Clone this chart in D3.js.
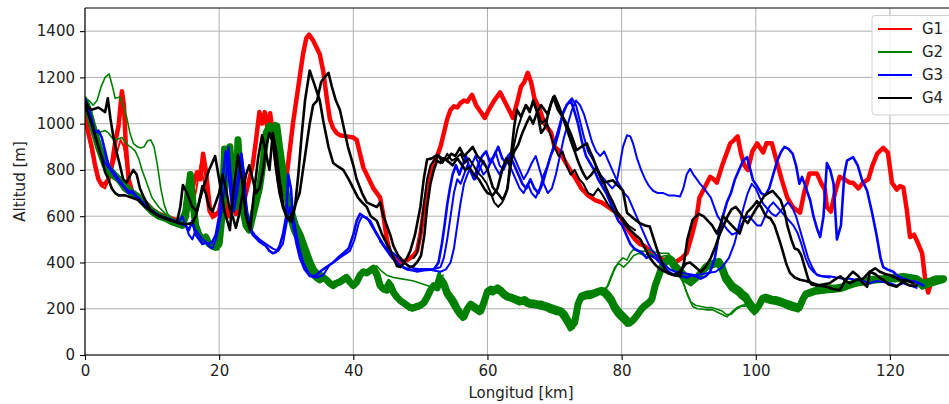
<!DOCTYPE html>
<html><head><meta charset="utf-8">
<script src="https://cdn.jsdelivr.net/npm/d3@7"></script>
<style>body{margin:0;background:#fff}svg{display:block}text{font-family:"DejaVu Sans",sans-serif}</style>
</head><body><svg id="c" width="949" height="404"></svg>
<script>
const groups = ["G1","G2","G3","G4"];
const groupColors = ["#ff0000","#008000","#0000ff","#000000"];
const xTicks = [0,20,40,60,80,100,120];
const yTicks = [0,200,400,600,800,1000,1200,1400];

// G1 (red)
const r1 = [[0,1040],[0.5,960],[1,900],[1.5,820],[2,760],[2.5,735],[3,740],[3.5,760],[4,820],[4.5,920],[5,990],[5.5,1140],[5.8,1080],[6.1,900],[6.5,760],[7,710],[7.5,690],[8,680],[9,660],[10,630],[11,610],[12,600],[13,590],[14,580],[15,600],[15.5,680],[16,720],[16.7,790],[17.2,760],[17.6,870],[18,800],[18.6,640],[19.2,600],[20,620],[20.5,700],[21,640],[21.5,600],[22,650],[22.5,610],[23,680],[23.5,640],[24,700],[24.5,760],[25,820],[25.5,930],[26,1050],[26.4,1000],[26.8,1050],[27.2,980],[27.6,1045],[28,960],[28.5,840],[29,730],[29.5,700],[30,760],[30.5,880],[31,1000],[31.5,1100],[32,1200],[32.5,1300],[33,1370],[33.4,1385],[34,1360],[34.5,1330],[35,1300],[35.5,1230],[36,1120],[36.5,1020],[37,980],[37.5,960],[38,950],[39,945],[40,940],[40.5,930],[41,870],[41.5,810],[42,780],[43,720],[44,680],[44.5,600],[45,500],[45.5,440],[46,420],[47,400],[48,410],[49,430],[49.5,450],[50,520],[50.5,620],[51,700],[51.5,780],[52,830],[52.5,860],[53,900],[53.5,960],[54,1020],[54.5,1060],[55,1075],[55.5,1070],[56,1090],[56.5,1100],[57,1095],[57.7,1125],[58.3,1080],[59,1050],[59.6,1025],[60.2,1060],[61,1100],[61.9,1135],[62.5,1100],[63.2,1060],[63.8,1025],[64.5,1100],[65,1160],[65.5,1180],[66,1220],[66.5,1180],[67,1110],[67.8,1060],[68.5,1000],[69.5,960],[70,900],[70.8,880],[71.5,840],[72.3,800],[73,770],[74,720],[75,690],[76,670],[77,660],[78,640],[79,620],[80,590],[81,540],[82,500],[82.7,480],[83.5,470],[84.5,440],[85.5,420],[86.5,410],[87.2,410],[88,400],[89,420],[89.7,440],[90.5,520],[91.2,600],[91.6,680],[92.3,720],[93.2,770],[93.7,760],[94.2,745],[95,820],[96.2,915],[96.8,930],[97.3,945],[97.8,870],[98.3,820],[98.8,800],[99.5,880],[100.2,915],[101.1,875],[101.6,915],[102.4,915],[103,850],[103.9,755],[104.7,680],[105.5,640],[106.6,615],[107.2,700],[108,785],[109.1,785],[109.8,740],[110.3,715],[110.6,640],[111.2,620],[111.8,700],[112.5,770],[113.2,760],[114,745],[114.5,745],[115.3,720],[116,745],[116.8,760],[117.4,820],[118.1,870],[119,895],[119.7,875],[120.3,745],[121,715],[121.5,730],[122,725],[122.5,630],[123,510],[123.6,520],[124,495],[124.8,440],[125.2,340],[125.7,270],[126.2,320],[126.5,330]];
const r2 = [[0,1010],[0.6,930],[1.2,850],[1.8,770],[2.4,730],[3,720],[3.6,760],[4.2,820],[4.8,880],[5.3,930],[5.8,900],[6.3,800],[6.8,720],[7.4,690],[8,670],[9,650],[10,625],[11,605],[12,595],[13,585],[14,575],[15,590],[15.8,650],[16.5,700],[17.2,820],[17.8,740],[18.4,620],[19,590]];

// G2 (green)
const g1 = [[0,1090],[0.5,1060],[1,1000],[1.5,950],[2,900],[2.5,860],[3,820],[3.5,800],[4,780],[4.5,770],[5,760],[5.5,740],[6,720],[7,700],[8,680],[9,650],[10,620],[11,600],[12,590],[13,575],[14,565],[14.5,560],[15,600],[15.4,700],[15.7,780],[16,680],[16.5,560],[17,520],[17.5,500],[18,510],[18.5,480],[19,470],[19.5,465],[20,480],[20.5,620],[20.8,890],[21.1,760],[21.6,900],[22,720],[22.4,640],[22.8,930],[23.2,760],[23.6,620],[24,560],[24.5,540],[25,600],[25.5,660],[26,720],[26.5,820],[27,960],[27.5,990],[28,960],[28.6,990],[29,900],[29.5,800],[30,700],[30.6,600],[31.2,540],[32,490],[32.5,450],[33,410],[33.5,380],[34,350],[34.5,335],[35,325],[35.5,335],[36,325],[36.5,310],[37,300],[37.5,310],[38,315],[38.5,325],[39,335],[39.5,315],[40,300],[40.5,315],[41,345],[41.5,360],[42,355],[42.5,365],[43,375],[43.5,350],[44,300],[44.5,285],[45,280],[45.5,300],[46,270],[46.5,250],[47,235],[47.5,225],[48,215],[48.5,205],[49,205],[49.5,210],[50,215],[50.5,225],[51,250],[51.5,280],[52,300],[52.5,290],[53,330],[53.5,310],[54,270],[54.5,250],[55,230],[55.5,200],[56,180],[56.5,165],[57,200],[57.5,220],[58,210],[58.5,200],[59,190],[59.5,230],[60,275],[60.5,285],[61,280],[61.5,290],[62,280],[62.5,265],[63,255],[63.5,250],[64,245],[64.5,240],[65,235],[65.5,240],[66,230],[66.5,225],[67,225],[67.5,220],[68,220],[68.5,215],[69,210],[69.5,205],[70,200],[70.5,195],[71,190],[71.5,175],[72,150],[72.5,125],[73,140],[73.5,220],[74,255],[74.5,260],[75,265],[75.5,265],[76,270],[76.5,275],[77,280],[77.5,275],[78,260],[78.5,240],[79,210],[79.5,190],[80,175],[80.5,160],[81,145],[81.5,145],[82,160],[82.5,180],[83,200],[83.5,215],[84,225],[84.5,240],[85,300],[85.5,340],[86,380],[86.5,400],[87,420],[87.5,410],[88,385],[88.5,370],[89,355],[89.5,340],[90,330],[90.5,320],[91,330],[91.5,345],[92,360],[92.5,380],[93,390],[93.5,395],[94,400],[94.5,405],[95,380],[95.5,340],[96,320],[96.5,300],[97,290],[97.5,280],[98,265],[98.5,255],[99,230],[99.5,210],[100,195],[100.5,215],[101,245],[101.5,250],[102,245],[102.5,240],[103,240],[103.5,235],[104,230],[104.5,225],[105,220],[105.5,215],[106,210],[106.5,205],[107,240],[107.5,265],[108,270],[108.5,275],[109,280],[110,285],[111,290],[112,290],[113,295],[114,305],[115,315],[116,320],[117,325],[118,330],[119,330],[120,335],[121,335],[122,340],[123,335],[124,330],[125,310],[126,320],[127,330],[128,330]];
const g2 = [[0,1110],[0.5,1080],[1,1030],[1.5,980],[2,930],[2.5,880],[3,850],[3.5,820],[4,800],[5,770],[6,740],[7,710],[8,690],[9,660],[10,630],[11,610],[12,595],[13,580],[14,570],[14.8,620],[15.3,740],[15.6,700],[16.2,600],[16.8,540],[17.4,510],[18,495],[18.6,485],[19.2,470],[19.8,460],[20.2,520],[20.6,860],[21,700],[21.5,880],[21.9,700],[22.5,660],[22.9,900],[23.3,700],[23.8,580],[24.3,550],[24.8,560],[25.3,640],[25.8,700],[26.3,780],[26.8,900],[27.3,970],[27.8,940],[28.3,1000],[28.8,940],[29.3,850],[29.8,760],[30.3,680],[31,620],[31.6,560],[32.3,520],[32.8,480],[33.3,440],[33.8,400],[34.3,370],[34.8,355],[35.3,350],[35.8,330],[36.3,315],[36.8,310],[37.3,315],[37.8,320],[38.3,330],[38.8,340],[39.3,330],[39.8,300],[40.3,305],[40.8,340],[41.3,350],[41.8,355],[42.3,360],[42.8,370],[43.3,345],[43.8,300],[44.3,285],[44.8,295],[45.3,320],[45.8,300],[46.3,260],[46.8,240],[47.3,230],[47.8,215],[48.3,200],[48.8,195],[49.3,200],[49.8,205],[50.3,215],[50.8,235],[51.3,265],[51.8,290],[52.3,300],[52.8,350],[53.3,300],[53.8,260],[54.3,240],[54.8,215],[55.3,190],[55.8,170],[56.3,155],[56.8,175],[57.3,210],[57.8,200],[58.3,190],[58.8,180],[59.3,205],[59.8,260],[60.3,270],[60.8,265],[61.3,275],[61.8,270],[62.3,255],[62.8,245],[63.3,240],[63.8,235],[64.3,228],[64.8,222],[65.3,228],[65.8,218],[66.3,212],[66.8,212],[67.3,208],[67.8,205],[68.3,202],[68.8,198],[69.3,190],[69.8,185],[70.3,180],[70.8,178],[71.3,160],[71.8,135],[72.3,110],[72.8,120],[73.3,200],[73.8,240],[74.3,245],[74.8,250],[75.3,250],[75.8,255],[76.3,262],[76.8,268],[77.3,262],[77.8,245],[78.3,225],[78.8,195],[79.3,175],[79.8,160],[80.3,145],[80.8,130],[81.3,132],[81.8,148],[82.3,168],[82.8,188],[83.3,202],[83.8,212],[84.3,225],[84.8,285],[85.3,325],[85.8,365],[86.3,385],[86.8,405],[87.3,395],[87.8,372],[88.3,355],[88.8,340],[89.3,325],[89.8,315],[90.3,305],[90.8,318],[91.3,332],[91.8,348],[92.3,365],[92.8,375],[93.3,380],[93.8,385],[94.3,390],[94.8,365],[95.3,325],[95.8,305],[96.3,285],[96.8,275],[97.3,265],[97.8,250],[98.3,240],[98.8,215],[99.3,195],[99.8,180],[100.3,200],[100.8,230],[101.3,238],[101.8,232],[102.3,228],[102.8,226],[103.3,222],[103.8,218],[104.3,212],[104.8,205],[105.3,200],[105.8,196],[106.3,192],[106.8,225],[107.3,250],[107.8,258],[108.3,262],[108.8,268],[109.8,272],[110.8,276],[111.8,278],[112.8,282],[113.8,292],[114.8,302],[115.8,308],[116.8,312],[117.8,318],[118.8,320],[119.8,322],[120.8,322],[121.8,326],[122.8,322],[123.8,318],[124.8,290],[125.8,300],[126.8,310],[128,320]];
const g3 = [[0,1110],[0.6,1100],[1.2,1080],[1.8,1100],[2.4,1160],[3,1200],[3.6,1215],[4.1,1160],[4.5,1110],[5.2,1115],[5.7,1080],[6.2,1030],[6.7,960],[7.2,915],[7.8,900],[8.3,895],[8.8,900],[9.3,925],[9.8,930],[10.3,900],[10.8,820],[11.3,720],[11.8,650],[12.3,610],[13,590],[14,575]];
const g4 = [[0,1060],[0.6,1010],[1.2,970],[1.8,960],[2.4,965],[3,970],[3.5,960],[4,940],[4.5,930],[5,935],[5.5,940],[6,920],[6.5,905],[7,895],[7.5,880],[8,850],[8.5,800],[9,760],[9.5,720],[10,680],[11,640],[12,610],[13,590],[14,575]];
const g5 = [[77,275],[78,300],[78.8,360],[79.5,400],[80.2,420],[80.8,410],[81.3,440],[81.7,455],[82.5,450],[83.5,448],[84.2,455],[85,445],[86,440],[87,440],[87.8,400],[88.5,350],[89.2,310],[89.8,260],[90.6,210],[91.3,200],[92,198],[92.8,195],[93.6,195],[94.3,185],[95,175],[95.7,165],[96.4,185],[97.2,205],[98,215],[98.8,220],[99.5,215],[100.2,200]];
const g6 = [[77.5,270],[78.3,330],[79,380],[79.6,395],[80.3,380],[81,400],[81.8,430],[82.6,440],[83.4,430],[84.2,440],[85,430],[85.8,425],[86.6,430],[87.4,420],[88.2,380],[89,330],[89.6,280],[90.3,230],[91,215],[91.8,210],[92.6,205],[93.4,205],[94.2,198],[95,190],[95.6,175],[96.3,175],[97,195],[97.8,210],[98.6,212],[99.4,205],[100.2,198]];
const g7 = [[42.5,375],[43.5,385],[44.3,360],[45,345],[46,335],[47,330],[48,325],[49,320],[50,310],[51,300],[52,290],[52.8,330],[53.4,345]];

// G3 (blue)
const b1 = [[0,1110],[0.5,1070],[1,1020],[1.5,960],[2,970],[2.5,940],[3,880],[3.5,820],[4,800],[4.5,780],[5,760],[5.5,740],[6,720],[6.5,700],[7,710],[7.5,690],[8,670],[9,640],[10,620],[11,600],[12,590],[13,580],[14,570],[15,560],[15.5,540],[16,580],[16.5,520],[17,500],[17.5,480],[18,485],[18.5,480],[19,490],[19.5,520],[20,600],[20.5,760],[21,880],[21.3,820],[21.7,700],[22,620],[22.5,700],[23,800],[23.3,870],[23.7,780],[24,650],[24.5,560],[25,520],[25.5,505],[26,490],[26.5,480],[27,470],[27.5,450],[28,440],[28.5,445],[29,470],[29.5,520],[30,600],[30.3,780],[30.7,720],[31,600],[31.5,520],[32,450],[32.5,400],[33,370],[33.5,345],[34,340],[34.5,345],[35,360],[36,380],[37,400],[37.7,420],[38.5,440],[39.3,460],[40,520],[40.5,580],[41,610],[41.5,600],[42,590],[42.5,580],[43.2,540],[44,500],[45,455],[46,420],[47,385],[48,370],[49,365],[50,370],[51,368],[52,370],[52.7,400],[53.2,480],[53.6,560],[54,650],[54.4,720],[54.8,780],[55.3,820],[55.8,780],[56.3,820],[56.8,860],[57.4,800],[58,760],[58.6,820],[59.2,860],[59.8,880],[60.4,830],[61,860],[61.6,900],[62.2,850],[62.8,830],[63.4,860],[64,820],[64.6,780],[65.2,740],[65.8,720],[66.4,760],[67,720],[67.6,700],[68.2,740],[68.8,800],[69.4,860],[70,900],[70.6,960],[71.2,1040],[71.8,1080],[72.4,1100],[72.9,1060],[73.5,1000],[74.1,920],[74.7,860],[75.3,830],[75.9,800],[76.5,760],[77.1,730],[77.7,700],[78.3,660],[78.9,620],[79.5,580],[80.1,560],[80.7,520],[81.3,480],[81.9,460],[82.5,450],[83.1,440],[83.7,420],[84.3,430],[85,420],[85.7,400],[86.3,380],[87,360],[87.6,350],[88.3,345],[89,340],[89.7,335],[90.4,345],[91.1,340],[91.8,330],[92.5,340],[93.2,360],[93.9,420],[94.5,520],[95.1,600],[95.7,660],[96.3,700],[96.9,760],[97.5,800],[98.1,840],[98.7,855],[99.2,800],[99.6,755],[100.2,730],[100.8,700],[101.4,690],[102,720],[102.6,780],[103.2,840],[103.8,880],[104.3,900],[104.9,890],[105.5,870],[106,820],[106.5,740],[106.9,770],[107.5,720],[108.1,670],[108.6,600],[109.2,540],[109.6,510],[110.1,600],[110.6,830],[111.1,800],[111.6,740],[112.1,500],[112.7,560],[113.2,780],[113.6,840],[114.5,855],[115.2,820],[115.8,760],[116.6,710],[117.3,620],[118,520],[118.6,420],[119,380],[119.6,370],[120.5,360],[121.2,340],[122,330],[123,320],[124,315],[125,300]];
const b2 = [[0,1090],[0.5,1040],[1,990],[1.5,940],[2,900],[2.5,860],[3,830],[3.5,810],[4,790],[4.5,770],[5,750],[6,720],[7,700],[8,680],[9,650],[10,625],[11,605],[12,595],[13,585],[14,575],[14.5,600],[15,560],[15.5,520],[16,500],[16.5,540],[17,520],[17.5,500],[18,490],[18.5,470],[19,460],[19.5,500],[20,560],[20.5,650],[21,760],[21.4,900],[21.8,760],[22.2,620],[22.8,720],[23.4,860],[23.8,740],[24.2,600],[24.8,540],[25.3,520],[26,500],[27,480],[28,460],[28.8,450],[29.5,480],[30,560],[30.5,640],[31,560],[31.5,480],[32,420],[32.7,370],[33.5,340],[34.5,335],[35.5,345],[36.5,390],[37.5,410],[38.5,430],[39.5,450],[40.2,500],[40.8,570],[41.3,600],[42,595],[42.7,560],[43.5,520],[44.5,470],[45.5,430],[46.5,395],[47.5,380],[48.5,370],[49.5,360],[50.5,365],[51.5,370],[52.5,375],[53,380],[53.5,420],[54,500],[54.5,600],[55,700],[55.5,760],[56,740],[56.5,780],[57,820],[57.6,790],[58.2,760],[58.8,800],[59.4,840],[60,800],[60.6,840],[61.2,880],[61.8,820],[62.4,800],[63,840],[63.6,800],[64.2,760],[64.8,720],[65.4,700],[66,740],[66.6,700],[67.2,680],[67.8,720],[68.4,780],[69,820],[69.6,880],[70.2,940],[70.8,1000],[71.4,1060],[72,1090],[72.6,1110],[73.2,1080],[73.8,1010],[74.4,940],[75,880],[75.6,850],[76.2,820],[76.8,780],[77.4,760],[78,740],[78.6,720],[79.2,740],[79.6,800],[80.2,900],[80.8,950],[81.3,945],[81.7,915],[82.3,850],[82.9,800],[83.5,760],[84.1,730],[84.7,710],[85.4,700],[86.2,700],[87,690],[87.8,690],[88.7,685],[89.2,720],[89.7,780],[90.2,805],[90.7,780],[91.2,760],[91.7,740],[92.3,720],[92.8,700],[93.3,680],[93.8,640],[94.3,600],[94.8,580],[95.3,560],[95.8,540],[96.5,520],[97.2,530],[97.8,560],[98.4,590],[99,600],[99.6,580],[100.2,560],[100.8,560],[101.4,600],[102,640],[102.6,660],[103.2,640],[103.8,620],[104.4,600],[105,580],[105.6,560],[106.2,530],[106.8,480],[107.4,420],[108,380],[108.6,360],[109.2,345],[110,340],[111,340],[112,335],[113,330],[114,330],[115,325],[116,320],[117,310],[118,320],[119,315],[120,310],[121,300],[122,310],[123,300],[124,290]];
const b3 = [[44,490],[45,460],[46,440],[47,410],[48,390],[49,375],[50,370],[51,372],[52,365],[53,360],[53.8,370],[54.5,400],[55,460],[55.5,560],[56,660],[56.5,740],[57,780],[57.6,820],[58.2,860],[58.8,820],[59.4,780],[60,800],[60.6,850],[61.2,810],[61.8,780],[62.4,820],[63,860],[63.6,880],[64.2,840],[64.8,800],[65.4,760],[66,790],[66.6,830],[67.2,860],[67.8,800],[68.4,740],[69,700],[69.6,720],[70.2,780],[70.8,860],[71.4,940],[72,1000],[72.6,1060],[73.2,1100],[73.8,1080],[74.4,1040],[75,980],[75.6,920],[76.2,880],[76.8,860],[77.4,880],[78,840],[78.6,800],[79.2,760],[79.8,730],[80.4,700],[81,680],[81.6,640],[82.2,600],[82.8,560],[83.4,520],[84,480],[84.6,450],[85.2,430],[85.8,410],[86.4,390],[87.2,370],[88,360],[89,355],[90,350],[91,345],[92,350],[93,355],[94,360],[95,380],[96,420],[96.8,480],[97.5,560],[98.2,640],[98.8,700],[99.4,740],[100,720],[100.6,680],[101.2,650],[101.8,630],[102.4,610],[103,600],[103.6,620],[104.2,640],[104.8,660],[105.4,640],[106,600],[106.6,540],[107.2,480],[107.8,420],[108.4,380],[109,350],[109.8,340],[111,335]];

// G4 (black)
const k1 = [[0,1100],[0.5,1070],[1,1060],[1.5,1065],[2,1070],[2.5,1060],[3,1050],[3.4,1110],[3.8,1020],[4.3,930],[4.7,880],[5.2,820],[5.7,760],[6.2,745],[6.8,780],[7.2,800],[7.7,780],[8.2,720],[8.8,680],[9.7,630],[10.5,610],[11.3,600],[12.2,590],[13,580],[13.7,575],[14.2,640],[14.6,735],[15.2,700],[16,640],[16.7,620],[17.1,670],[17.6,720],[18.5,800],[19.4,860],[20,760],[20.8,620],[21.6,540],[22.1,700],[22.8,865],[23.4,760],[24,600],[24.6,540],[25.2,700],[25.8,850],[26.4,950],[27,870],[27.5,800],[28,960],[28.5,880],[29,760],[29.6,640],[30.2,590],[30.8,575],[31.3,640],[31.8,780],[32.3,950],[32.8,1100],[33.5,1230],[34.2,1170],[35,1100],[35.6,1000],[36.3,900],[37,830],[37.7,815],[38.5,800],[39.3,760],[40,720],[40.7,680],[41.3,660],[42,640],[42.6,600],[43.5,580],[44.3,520],[45,480],[45.5,455],[46,420],[46.5,385],[47,380],[47.5,395],[48,420],[48.5,450],[49.2,520],[50,640],[50.5,760],[51,845],[51.7,850],[52.5,865],[53.2,850],[54,845],[54.6,870],[55.2,860],[55.9,895],[56.5,860],[57.2,880],[57.8,900],[58.5,860],[59.2,840],[59.9,810],[60.8,725],[61.5,700],[62.3,670],[63,720],[63.5,860],[64,990],[64.4,1060],[65,1030],[65.7,1080],[66.3,1050],[66.8,1100],[67.5,1040],[68,960],[68.6,985],[69.2,1060],[69.8,1115],[70.5,1060],[71.2,1030],[71.8,1000],[72.5,950],[73.3,885],[74,900],[74.8,915],[75.3,880],[75.7,855],[76.5,790],[77.2,745],[78,750],[78.7,755],[79.5,730],[80.2,710],[80.8,615],[81.8,590],[82.7,570],[83.5,560],[84.2,555],[84.8,500],[85.3,455],[86,400],[86.8,355],[87.8,345],[88.7,340],[89.3,400],[89.8,500],[90.6,585],[91.5,610],[92.2,600],[92.7,585],[93.5,560],[94.2,525],[94.7,560],[95.1,600],[95.8,580],[96.6,555],[97.1,540],[97.6,525],[98.2,580],[98.7,615],[99.5,640],[100.2,665],[100.8,640],[101.5,600],[102.2,590],[102.8,560],[103.2,525],[103.7,480],[104.1,440],[104.6,390],[105.1,355],[105.8,335],[106.6,325],[107.5,320],[108.5,310],[109.5,300],[110.6,295],[111.5,285],[112.5,280],[113.3,320],[114,345],[114.5,360],[115.3,340],[116,310],[116.6,295],[117,360],[117.8,350],[118.4,335],[119,325],[119.8,305],[120.4,300],[121,295],[121.6,310],[122,325],[122.7,320],[123.5,310]];
const k2 = [[0,1080],[0.5,1040],[1,1000],[1.5,950],[2,900],[2.5,850],[3,790],[3.5,760],[4,720],[4.5,700],[5,690],[6,690],[7,680],[8,670],[9,640],[10,620],[11,600],[12,590],[13,580],[14,570],[15,565],[16,570],[16.5,600],[17,660],[17.5,730],[18,700],[18.5,640],[19,620],[19.5,660],[20,700],[20.5,780],[21,720],[21.5,640],[22,600],[22.5,550],[23,610],[23.5,700],[24,780],[24.5,820],[25,760],[25.5,700],[26,720],[26.5,790],[27,900],[27.5,960],[28,920],[28.5,800],[29,700],[29.5,640],[30,600],[30.5,590],[31,620],[31.5,660],[32,700],[32.5,800],[33,900],[33.5,1000],[34,1080],[34.6,1100],[35.2,1180],[35.7,1200],[36.3,1220],[36.8,1160],[37.4,1100],[38,1060],[38.6,980],[39.2,900],[40,820],[40.5,760],[41.3,700],[42,660],[42.7,650],[43.5,640],[44,660],[44.5,600],[45,560],[45.5,520],[46,470],[46.7,430],[47.3,410],[47.8,395],[48.4,380],[49,385],[49.6,405],[50.1,430],[50.6,520],[51,640],[51.5,740],[52,800],[52.5,840],[53,830],[53.5,850],[54.2,835],[54.8,820],[55.5,850],[56,830],[56.7,800],[57.3,810],[58,780],[58.7,760],[59.5,720],[60,700],[60.8,690],[61.5,720],[62.2,800],[62.8,850],[63.3,820],[64,880],[64.6,910],[65.2,960],[65.8,1000],[66.3,1030],[66.8,1000],[67.4,1050],[68,1080],[68.5,1060],[69,1040],[69.5,1090],[70,1120],[70.6,1080],[71.2,1030],[71.8,980],[72.5,920],[73,880],[73.6,830],[74.2,790],[74.8,760],[75.5,780],[76.2,810],[76.8,780],[77.4,740],[78,700],[78.7,660],[79.3,620],[80,590],[80.6,560],[81.3,540],[82,520],[82.8,500],[83.5,460],[84.2,420],[85,390],[85.8,370],[86.5,360],[87.3,350],[88,345],[88.8,365],[89.6,395],[90.2,400],[91,380],[91.8,360],[92.5,380],[93.3,420],[94,470],[94.6,520],[95.2,560],[95.8,600],[96.4,630],[97,640],[97.6,620],[98.2,590],[98.8,570],[99.4,600],[100,630],[100.7,660],[101.3,690],[101.9,700],[102.5,710],[103.1,690],[103.7,670],[104.3,620],[104.7,560],[105.3,500],[105.8,460],[106.3,455],[106.8,430],[107.3,380],[107.8,330],[108.3,305],[109,300],[110,305],[111,310],[112,330],[112.6,340],[113.2,325],[114,310],[115,325],[116,330],[117,360],[117.8,375],[118.5,360],[119.3,350],[120,345],[120.8,335],[121.5,325],[122.3,310],[123,300],[124,300]];
const k3 = [[49,420],[49.5,440],[50,520],[50.5,650],[51,760],[51.5,820],[52,840],[52.7,860],[53.3,830],[54,870],[54.7,840],[55.3,850],[56,870],[56.6,830],[57.2,850],[57.9,820],[58.5,790],[59.2,770],[59.9,740],[60.5,700],[61,660],[61.6,640],[62.2,660],[62.8,700],[63.3,780],[63.9,900],[64.5,980],[65.2,1040],[65.8,1080],[66.3,1060],[66.9,1090],[67.5,1050],[68.1,1000],[68.7,1020],[69.3,960],[70,900],[70.6,860],[71.2,880],[71.8,820],[72.4,780],[73,800],[73.7,760],[74.3,740],[75,700],[75.8,690],[76.5,720],[77.2,690],[78,650],[78.8,620],[79.5,600],[80.2,590],[81,560],[82,540]];

const W = 949, H = 404;
const m = {left:85, top:8, right:957, bottom:355};
const x = d3.scaleLinear().domain([0,130]).range([m.left, m.right]);
const y = d3.scaleLinear().domain([0,1500]).range([m.bottom, m.top]);
const svg = d3.select("#c");
const FS = 15;

// grid
const grid = svg.append("g");
grid.selectAll("line.vx").data(xTicks).join("line")
  .attr("x1", d=>x(d)).attr("x2", d=>x(d)).attr("y1", m.top).attr("y2", m.bottom)
  .attr("stroke","#b0b0b0").attr("stroke-width",1);
grid.selectAll("line.hy").data(yTicks).join("line")
  .attr("x1", m.left).attr("x2", m.right).attr("y1", d=>y(d)).attr("y2", d=>y(d))
  .attr("stroke","#b0b0b0").attr("stroke-width",1);

// lines
svg.append("clipPath").attr("id","pc").append("rect")
  .attr("x", m.left).attr("y", m.top).attr("width", m.right-m.left).attr("height", m.bottom-m.top);
const line = d3.line().x(d=>x(d[0])).y(d=>y(d[1]));
const plots = [
  {d:r1,g:0,w:4.5},{d:r2,g:0,w:2},
  {d:g1,g:1,w:7},{d:g2,g:1,w:4},{d:g3,g:1,w:1.6},{d:g4,g:1,w:1.6},{d:g5,g:1,w:1.6},{d:g6,g:1,w:1.6},{d:g7,g:1,w:1.6},
  {d:b1,g:2,w:2.6},{d:b2,g:2,w:2},{d:b3,g:2,w:2},
  {d:k1,g:3,w:2.6},{d:k2,g:3,w:2.6},{d:k3,g:3,w:2}
];
const lg = svg.append("g").attr("clip-path","url(#pc)");
lg.selectAll("path").data(plots).join("path")
  .attr("d", p=>line(p.d)).attr("fill","none")
  .attr("stroke", p=>groupColors[p.g]).attr("stroke-width", p=>p.w)
  .attr("stroke-linejoin","round").attr("stroke-linecap","round");

// spines
[[m.left,m.left,m.top,m.bottom],[m.left,m.right,m.bottom,m.bottom],[m.left,m.right,m.top,m.top],[m.right,m.right,m.top,m.bottom]]
  .forEach(s=>svg.append("line").attr("x1",s[0]).attr("x2",s[1]).attr("y1",s[2]).attr("y2",s[3]).attr("stroke","#000").attr("stroke-width",1.1));

// axes
const xa = svg.append("g").attr("transform",`translate(0,${m.bottom})`)
  .call(d3.axisBottom(x).tickValues(xTicks).tickSize(5).tickPadding(5).tickFormat(d3.format("d")));
const ya = svg.append("g").attr("transform",`translate(${m.left},0)`)
  .call(d3.axisLeft(y).tickValues(yTicks).tickSize(5).tickPadding(5).tickFormat(d3.format("d")));
[xa,ya].forEach(a=>{
  a.select(".domain").remove();
  a.selectAll("text").attr("font-size",FS).attr("fill","#222").attr("font-family","DejaVu Sans");
  a.selectAll("line").attr("stroke","#000").attr("stroke-width",1.1);
});

svg.append("text").attr("x", (m.left+m.right)/2).attr("y", 398).attr("text-anchor","middle")
  .attr("font-size",FS).attr("fill","#222").text("Longitud [km]");
svg.append("text").attr("transform",`translate(25,${(m.top+m.bottom)/2}) rotate(-90)`).attr("text-anchor","middle")
  .attr("font-size",FS).attr("fill","#222").text("Altitud [m]");

// legend
const leg = svg.append("g");
leg.append("rect").attr("x",872).attr("y",15.5).attr("width",80).attr("height",99.5).attr("rx",3)
  .attr("fill","#fff").attr("fill-opacity",0.8).attr("stroke","#d0d0d0").attr("stroke-width",1);
groups.forEach((g,i)=>{
  const yy = 29 + i*23;
  leg.append("line").attr("x1",878).attr("x2",912).attr("y1",yy).attr("y2",yy)
    .attr("stroke",groupColors[i]).attr("stroke-width",2);
  leg.append("text").attr("x",922).attr("y",yy+5).attr("font-size",FS).attr("fill","#222").text(g);
});
</script></body></html>
